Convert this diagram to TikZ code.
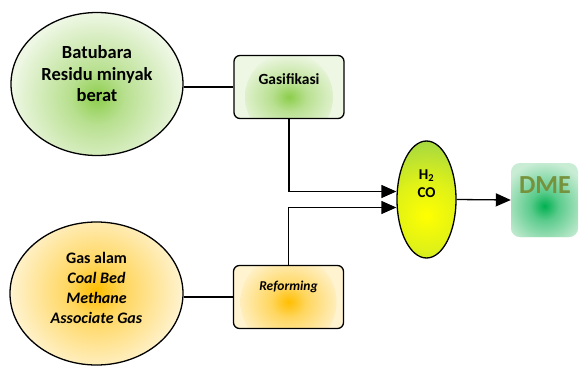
\documentclass[tikz,border=0pt]{standalone}
\usepackage{fontspec}
\setmainfont{Carlito}
\usetikzlibrary{shapes.geometric,arrows.meta}
\definecolor{leafpale}{RGB}{238,247,228}
\definecolor{leaf}{RGB}{140,205,75}
\definecolor{sunpale}{RGB}{255,243,208}
\definecolor{sun}{RGB}{255,190,0}
\definecolor{lime}{RGB}{146,208,80}
\definecolor{lemon}{RGB}{255,255,0}
\definecolor{mintpale}{RGB}{200,236,212}
\definecolor{mint}{RGB}{0,176,80}
\definecolor{olive}{RGB}{118,146,60}
% soft spots: strong core, quick fall-off, gentle tail to the fill colour
\pgfdeclareradialshading{glowleaf}{\pgfpointorigin}{%
  color(0bp)=(leaf); color(8bp)=(leaf!55!leafpale); color(25bp)=(leafpale); color(50bp)=(leafpale)}
\pgfdeclareradialshading{glowsun}{\pgfpointorigin}{%
  color(0bp)=(sun); color(8bp)=(sun!55!sunpale); color(25bp)=(sunpale); color(50bp)=(sunpale)}
\pgfdeclareradialshading{glowlemon}{\pgfpointorigin}{%
  color(0bp)=(lemon); color(10bp)=(lemon!70!lime); color(25bp)=(lime); color(50bp)=(lime)}
\pgfdeclareradialshading{glowmint}{\pgfpointorigin}{%
  color(0bp)=(mint); color(8bp)=(mint!55!mintpale); color(25bp)=(mintpale); color(50bp)=(mintpale)}
\begin{document}
\begin{tikzpicture}[x=1pt,y=-1pt,
  font=\bfseries,
  glow/.style n args={3}{path picture={\shade[shading=#1]
      ([shift={#2}]path picture bounding box.center) circle (2*#3);}},
  source/.style={ellipse,draw=black,line width=1.3pt,inner sep=0pt},
  stage/.style={rectangle,rounded corners=6pt,draw=black,line width=1.3pt,inner sep=0pt,
      minimum width=110pt,minimum height=63pt},
  link/.style={line width=1.3pt},
  feed/.style={link,-{Triangle[length=15pt,width=13pt]}},
  label/.style={align=center,inner sep=0pt}]
\useasboundingbox (0,0) rectangle (579,367);

% feedstocks
\node[source,fill=leafpale,glow={glowleaf}{(2,14)}{42pt},
      minimum width=172pt,minimum height=143pt] (coal) at (97,84) {};
\node[label,font=\bfseries\fontsize{18.5}{21.5}\selectfont] (coaltxt) at (97,74)
  {Batubara\\Residu minyak\\berat};

\node[source,fill=sunpale,glow={glowsun}{(0,-3)}{42pt},
      minimum width=173pt,minimum height=143pt] (gas) at (96.5,293.5) {};
\node[label,font=\bfseries\fontsize{16}{20}\selectfont] (gastxt) at (96.5,288)
  {Gas alam\\\textit{Coal Bed}\\\textit{Methane}\\\textit{Associate Gas}};

% conversion stages
\node[stage,fill=leafpale,glow={glowleaf}{(0,10)}{22pt}] (gasif) at (289,87) {};
\node[label,font=\bfseries\fontsize{15.5}{17}\selectfont] (gasiftxt) at (289,79) {Gasifikasi};

\node[stage,fill=sunpale,glow={glowsun}{(0,5)}{24pt}] (reform) at (288.5,297) {};
\node[label,font=\bfseries\itshape\fontsize{13.5}{15}\selectfont] (reformtxt) at (288.5,287) {Reforming};

% syngas
\node[source,fill=lime,glow={glowlemon}{(0,16)}{44pt},
      minimum width=59pt,minimum height=117pt] (syn) at (426.5,199.5) {};
\node[label,font=\bfseries\fontsize{15}{18}\selectfont] (syntxt) at (426.5,184)
  {H\textsubscript{2}\\CO};

% product
\node[rectangle,rounded corners=9pt,fill=mintpale,glow={glowmint}{(0,6)}{22pt},
      minimum width=67pt,minimum height=74pt,inner sep=0pt] (dme) at (544.5,200) {};
\node[label,text=olive,font=\bfseries\fontsize{26}{28}\selectfont] (dmetxt) at (545,185) {DME};

% connectors
\draw[link] (coal.east |- gasif.west) -- (gasif.west);
\draw[link] (gas.east |- reform.west) -- (reform.west);
\draw[feed] (gasif.south) |- ([yshift=8pt]syn.west);
\draw[feed] (reform.north) |- ([yshift=-8pt]syn.west);
\draw[feed] (syn.east) -- (dme.west);
\end{tikzpicture}
\end{document}
